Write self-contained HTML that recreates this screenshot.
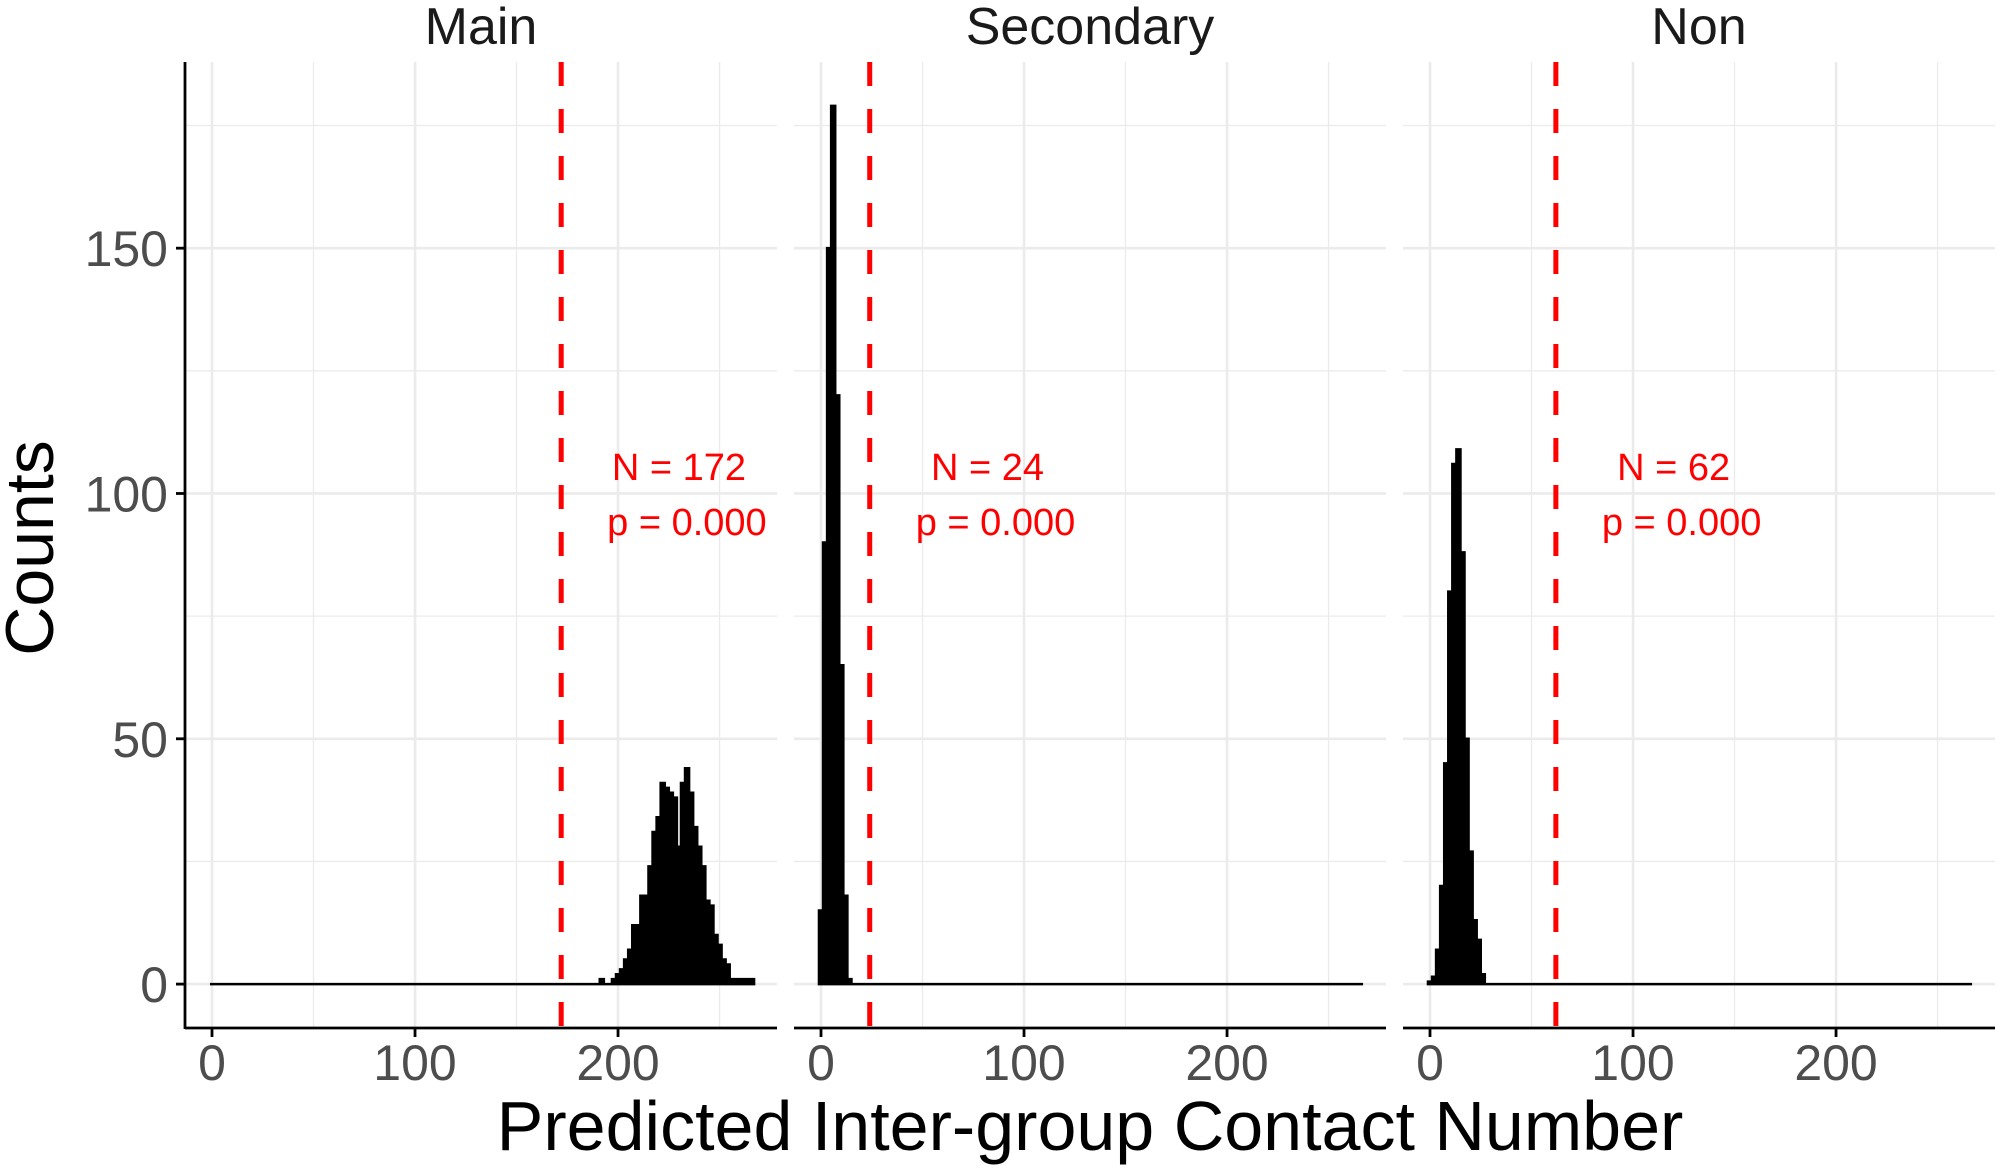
<!DOCTYPE html>
<html><head><meta charset="utf-8"><style>
html,body{margin:0;padding:0;background:#fff;}
svg{display:block;font-family:"Liberation Sans",Arial,sans-serif;}
</style></head><body>
<svg id="chart" width="2000" height="1172" viewBox="0 0 2000 1172" xmlns="http://www.w3.org/2000/svg"></svg>
<script>
// ---- data ----
const facetNames = ["Main", "Secondary", "Non"];
const observedN = [172, 24, 62];
const pLabels = ["p = 0.000", "p = 0.000", "p = 0.000"];
const binStart = -1;      // first bin left edge
const binWidth = 2;
const binCount = 134;     // bins span -1 .. 267
// non-zero counts: first bin left value + counts
const mainFrom = 191;
const mainCounts = [1,0,0,1,2,3,5,7,12,12,18,18,24,31,34,41,40,39,38,28,41,44,39,32,28,24,17,16,10,8,5,4,1,1,1,1,1,1];
const secFrom = -1;
const secCounts = [15,90,150,179,120,65,18,1];
const nonFrom = -1;
const nonCounts = [0.5,1.5,7,20,45,80,106,109,88,50,27,13,9,2];
const xTicks = [0, 100, 200];
const xMinor = [50, 150, 250];
const yTicks = [0, 50, 100, 150];
const yMinor = [25, 75, 125, 175];

// ---- layout ----
const NS = "http://www.w3.org/2000/svg";
const svg = document.getElementById("chart");
const panelLefts = [185, 794, 1403];
const panelW = 592, panelTop = 62, panelBottom = 1028;
const xDom = [-13.3, 278.3], yDom = [-8.95, 187.95];
function xs(p, v){ return panelLefts[p] + (v - xDom[0]) / (xDom[1]-xDom[0]) * panelW; }
function ys(v){ return panelBottom - (v - yDom[0]) / (yDom[1]-yDom[0]) * (panelBottom - panelTop); }
function mk(tag, attrs, parent){
  const e = document.createElementNS(NS, tag);
  for (const k in attrs) e.setAttribute(k, attrs[k]);
  (parent||svg).appendChild(e); return e;
}
const allFrom = [mainFrom, secFrom, nonFrom];
const allCounts = [mainCounts, secCounts, nonCounts];

for (let p = 0; p < 3; p++){
  const g = mk("g", {});
  
  
  const L = panelLefts[p], R = L + panelW;
  // grid
  yMinor.forEach(v => { const l = mk("line",{x1:L,x2:R,y1:ys(v),y2:ys(v),stroke:"#ebebeb","stroke-width":1.3},g);
      });
  xMinor.forEach(v => { const l = mk("line",{x1:xs(p,v),x2:xs(p,v),y1:panelTop,y2:panelBottom,stroke:"#ebebeb","stroke-width":1.3},g);
      });
  yTicks.forEach(v => { const l = mk("line",{x1:L,x2:R,y1:ys(v),y2:ys(v),stroke:"#ebebeb","stroke-width":2.6},g);
      });
  xTicks.forEach(v => { const l = mk("line",{x1:xs(p,v),x2:xs(p,v),y1:panelTop,y2:panelBottom,stroke:"#ebebeb","stroke-width":2.6},g);
      });
  // histogram as outline path
  const counts = [];
  for (let i = 0; i < binCount; i++) counts.push(0);
  const from = allFrom[p], arr = allCounts[p];
  arr.forEach((c, j) => { const idx = Math.round((from + j*binWidth - binStart)/binWidth); if (idx>=0 && idx<binCount) counts[idx] = c; });
  let d = "M" + xs(p, binStart) + "," + ys(0);
  for (let i = 0; i < binCount; i++){
    const x0 = xs(p, binStart + i*binWidth), x1 = xs(p, binStart + (i+1)*binWidth);
    d += " L" + x0 + "," + ys(counts[i]) + " L" + x1 + "," + ys(counts[i]);
  }
  d += " L" + xs(p, binStart + binCount*binWidth) + "," + ys(0) + " Z";
  const hist = mk("path",{d:d,fill:"#000",stroke:"#000","stroke-width":2.5,"stroke-linejoin":"miter"},g);
  
  
  // red dashed line
  const rl = mk("line",{x1:xs(p,observedN[p]),x2:xs(p,observedN[p]),y1:panelTop,y2:panelBottom,stroke:"#ff0000","stroke-width":5,"stroke-dasharray":"24,23"},g);
  
  
  // annotations
  const tx = xs(p, observedN[p] + 58);
  const t1 = mk("text",{x:tx,y:480,"text-anchor":"middle","font-size":38,fill:"#ff0000"},g);
  t1.textContent = "N = " + observedN[p];
  
  
  const t2 = mk("text",{x:tx+8,y:535,"text-anchor":"middle","font-size":38,fill:"#ff0000"},g);
  t2.textContent = pLabels[p];
  
  
  // x axis
  const ax = mk("line",{x1:L,x2:R,y1:panelBottom,y2:panelBottom,stroke:"#000","stroke-width":2.8},g);
  
  
  xTicks.forEach(v => {
    const tk = mk("line",{x1:xs(p,v),x2:xs(p,v),y1:panelBottom,y2:panelBottom+9,stroke:"#000","stroke-width":2.8},g);
     
    const tl = mk("text",{x:xs(p,v),y:1080,"text-anchor":"middle","font-size":50,fill:"#4d4d4d"},g);
    tl.textContent = v;
     
  });
  // strip title
  const st = mk("text",{x:L+panelW/2,y:44,"text-anchor":"middle","font-size":52,fill:"#1a1a1a"},g);
  st.textContent = facetNames[p];
  
  
}
// y axis
const ya = mk("line",{x1:185,x2:185,y1:panelTop,y2:panelBottom+1,stroke:"#000","stroke-width":2.8});


yTicks.forEach(v => {
  const tk = mk("line",{x1:176,x2:185,y1:ys(v),y2:ys(v),stroke:"#000","stroke-width":2.8});
   
  const tl = mk("text",{x:168,y:ys(v)+18,"text-anchor":"end","font-size":50,fill:"#4d4d4d"});
  tl.textContent = v;
   
});
const xt = mk("text",{x:1090,y:1150,"text-anchor":"middle","font-size":70,fill:"#000"});
xt.textContent = "Predicted Inter-group Contact Number";


const yt = mk("text",{x:0,y:0,"text-anchor":"middle","font-size":68,fill:"#000",transform:"translate(53,548) rotate(-90)"});
yt.textContent = "Counts";


</script>
</body></html>
